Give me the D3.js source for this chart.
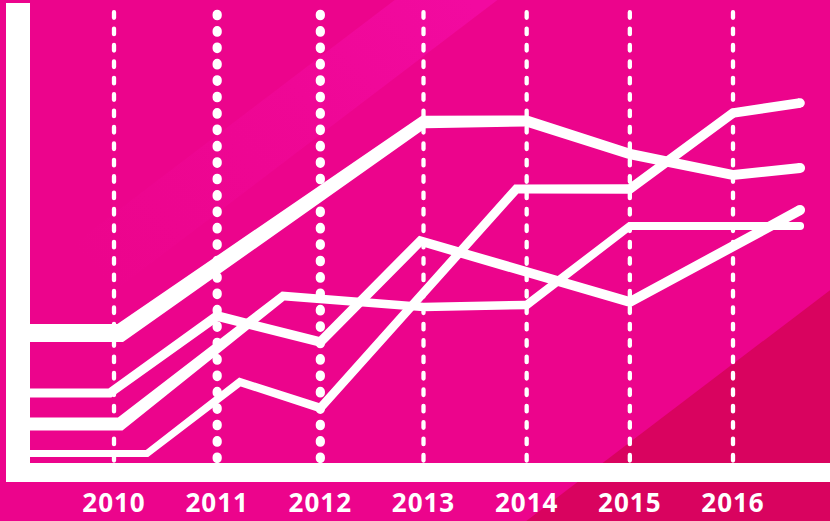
<!DOCTYPE html>
<html>
<head>
<meta charset="utf-8">
<script src="https://cdn.jsdelivr.net/npm/d3@7/dist/d3.min.js"></script>
<style>
  html, body { margin: 0; padding: 0; background: #EC048C; }
  svg { display: block; }
</style>
</head>
<body>
<svg id="chart" width="830" height="521"></svg>
<script>
// ---------------- DATA ----------------
const years = [2010, 2011, 2012, 2013, 2014, 2015, 2016];
const yearLabels = ["2010", "2011", "2012", "2013", "2014", "2015", "2016"];

// Series A (thick top line)
const seriesAYears  = [2009.16, 2010.06, 2013.0, 2014.0, 2015.0, 2016.0, 2016.65];
const seriesAValues = [32.5, 32.5, 85.25, 85.5, 77.25, 72.0, 73.75];

// Series B
const seriesBYears  = [2009.16, 2009.96, 2011.0, 2012.0, 2012.97, 2015.0, 2016.65];
const seriesBValues = [17.5, 17.5, 36.75, 30.25, 55.5, 40.25, 63.25];

// Series C
const seriesCYears  = [2009.16, 2010.06, 2011.64, 2013.0, 2014.0, 2015.0, 2016.65];
const seriesCValues = [9.75, 9.75, 41.75, 39.0, 39.5, 59.25, 59.25];

// Series D (bottom start, ends highest)
const seriesDYears  = [2009.16, 2010.32, 2011.22, 2012.0, 2013.9, 2015.0, 2016.0, 2016.65];
const seriesDValues = [2.4, 2.4, 20.25, 13.75, 68.5, 68.5, 87.5, 90.0];

// ---------------- STYLE ----------------
const W = 830, H = 521;
const svg = d3.select("#chart");

const x = d3.scaleLinear().domain([2010, 2016]).range([114, 733]);
const y = d3.scaleLinear().domain([0, 100]).range([463, 63]);

const seriesList = [
  { xs: seriesDYears, vs: seriesDValues, widths: [7, 7, 8, 8.5, 9, 9.5, 9.5, 9.5] },
  { xs: seriesCYears, vs: seriesCValues, widths: [13, 13, 9, 8.5, 8.5, 8, 8] },
  { xs: seriesBYears, vs: seriesBValues, widths: [9, 9, 9.5, 9.5, 9.5, 10, 10] },
  { xs: seriesAYears, vs: seriesAValues, widths: [18, 18, 12.5, 11, 10.5, 10, 10] }
];

// ---------------- BACKGROUND ----------------
const defs = svg.append("defs");
const grad = defs.append("linearGradient")
  .attr("id", "bandGrad")
  .attr("gradientUnits", "userSpaceOnUse")
  .attr("x1", 470).attr("y1", 0).attr("x2", 120).attr("y2", 300);
grad.append("stop").attr("offset", 0).attr("stop-color", "#F20AA0").attr("stop-opacity", 1);
grad.append("stop").attr("offset", 0.45).attr("stop-color", "#F20AA0").attr("stop-opacity", 0.45);
grad.append("stop").attr("offset", 1).attr("stop-color", "#F20AA0").attr("stop-opacity", 0);

const k = 0.76; // diagonal slope of decorative bands
function band(c1, c2) {
  return [[c1 / k, 0], [c2 / k, 0], [(c2 - H) / k, H], [(c1 - H) / k, H]];
}
svg.append("rect").attr("width", W).attr("height", H).attr("fill", "#EC048C");
svg.append("polygon")
  .attr("points", band(300, 378).map(p => p.join(",")).join(" "))
  .attr("fill", "url(#bandGrad)");
svg.append("polygon")
  .attr("points", [[W, 921 - k * W], [W, H], [(921 - H) / k, H]].map(p => p.join(",")).join(" "))
  .attr("fill", "#D9035F");

// ---------------- GRID (dashed verticals) ----------------
const dotted = new Set([2011, 2012]);
const grid = svg.append("g");
grid.selectAll("line")
  .data(years)
  .join("line")
  .attr("x1", d => x(d)).attr("x2", d => x(d))
  .attr("y1", d => dotted.has(d) ? 14.25 : 12.2)
  .attr("y2", 461)
  .attr("stroke", "#fff")
  .attr("stroke-linecap", "round")
  .attr("stroke-width", d => dotted.has(d) ? 9.2 : 4.3)
  .attr("stroke-dasharray", d => dotted.has(d) ? "1.5 14.9" : "5.6 10.8");

// ---------------- TAPERED LINES ----------------
function taperPath(pts, ws) {
  const n = pts.length;
  const norms = [];
  for (let i = 0; i < n - 1; i++) {
    const dx = pts[i + 1][0] - pts[i][0], dy = pts[i + 1][1] - pts[i][1];
    const L = Math.hypot(dx, dy);
    norms.push([-dy / L, dx / L]);
  }
  const left = [], right = [];
  for (let i = 0; i < n; i++) {
    const h = ws[i] / 2;
    let m, len;
    if (i === 0) { m = norms[0]; len = h; }
    else if (i === n - 1) { m = norms[n - 2]; len = h; }
    else {
      const a = norms[i - 1], b = norms[i];
      let mx = a[0] + b[0], my = a[1] + b[1];
      const ml = Math.hypot(mx, my);
      mx /= ml; my /= ml;
      m = [mx, my];
      len = Math.min(h / (mx * a[0] + my * a[1]), h * 3);
    }
    left.push([pts[i][0] + m[0] * len, pts[i][1] + m[1] * len]);
    right.push([pts[i][0] - m[0] * len, pts[i][1] - m[1] * len]);
  }
  const poly = left.concat(right.reverse());
  return "M" + poly.map(p => p[0].toFixed(2) + "," + p[1].toFixed(2)).join("L") + "Z";
}

const linesG = svg.append("g");
seriesList.forEach(s => {
  const pts = s.xs.map((xv, i) => [x(xv), y(s.vs[i])]);
  linesG.append("path").attr("d", taperPath(pts, s.widths)).attr("fill", "#fff");
  const last = pts[pts.length - 1];
  linesG.append("circle")
    .attr("cx", last[0]).attr("cy", last[1])
    .attr("r", s.widths[s.widths.length - 1] / 2)
    .attr("fill", "#fff");
});

// ---------------- AXES ----------------
svg.append("rect").attr("x", 6).attr("y", 3).attr("width", 24).attr("height", 479).attr("fill", "#fff");
svg.append("rect").attr("x", 30).attr("y", 463).attr("width", W - 30).attr("height", 19).attr("fill", "#fff");

// ---------------- LABELS ----------------
svg.append("g").selectAll("text")
  .data(years)
  .join("text")
  .attr("x", d => x(d))
  .attr("y", 512)
  .attr("text-anchor", "middle")
  .attr("fill", "#fff")
  .attr("font-family", "'Open Sans', 'Noto Sans', sans-serif")
  .attr("font-weight", 700)
  .attr("font-size", 26)
  .attr("letter-spacing", 1)
  .text((d, i) => yearLabels[i]);
</script>
</body>
</html>
